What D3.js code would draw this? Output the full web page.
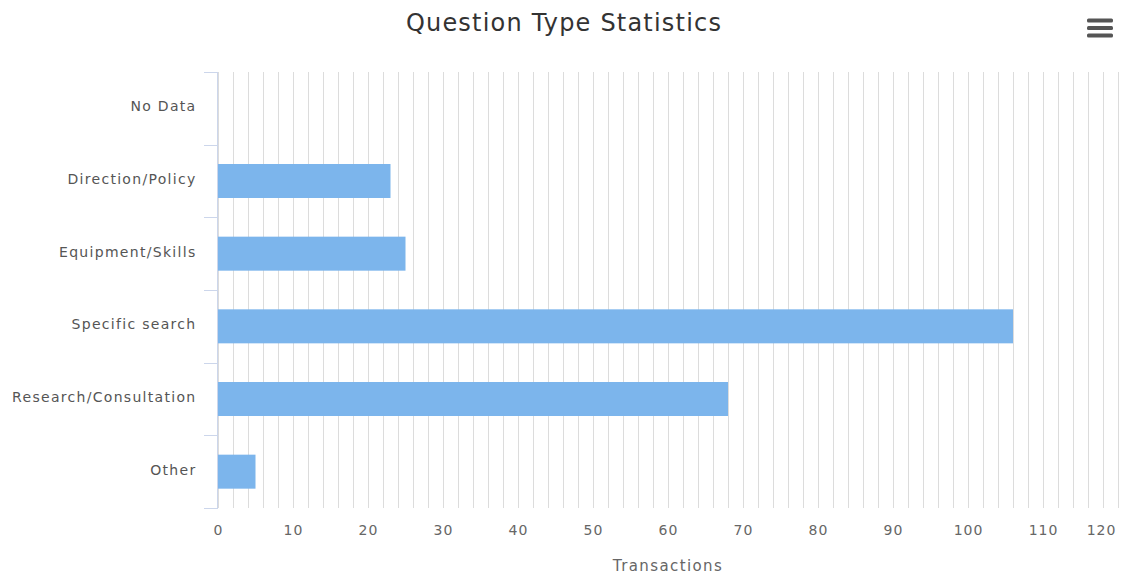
<!DOCTYPE html>
<html>
<head>
<meta charset="utf-8">
<script src="https://cdn.jsdelivr.net/npm/d3@7"></script>
<style>
  html, body { margin: 0; padding: 0; background: #fff; }
  svg { display: block; font-family: "DejaVu Sans", sans-serif; }
</style>
</head>
<body>
<svg id="chart" width="1126" height="575"></svg>
<script>
// Question type counts
const categories = ["No Data", "Direction/Policy", "Equipment/Skills", "Specific search", "Research/Consultation", "Other"];
const transactions = [0, 23, 25, 106, 68, 5];
const xTickLabels = [0, 10, 20, 30, 40, 50, 60, 70, 80, 90, 100, 110, 120];
const gridValues = d3.range(0, 121, 2);

const svg = d3.select("#chart");
const plot = { left: 218, right: 1118, top: 72, bottom: 508 };

const x = d3.scaleLinear().domain([0, 120]).range([plot.left, plot.right]);
const y = d3.scaleBand().domain(categories).range([plot.top, plot.bottom]);

// Title
svg.append("text")
  .attr("x", 564).attr("y", 31)
  .attr("text-anchor", "middle")
  .attr("font-size", 24)
  .attr("letter-spacing", 1.2)
  .attr("fill", "#333")
  .text("Question Type Statistics");

// Menu icon
const menu = svg.append("g").attr("fill", "#555");
[0, 1, 2].forEach(i => {
  menu.append("rect").attr("x", 1087).attr("y", 18.5 + i * 7.5).attr("width", 26).attr("height", 4).attr("rx", 1.5);
});

// Vertical gridlines
svg.append("g")
  .selectAll("line")
  .data(gridValues)
  .join("line")
  .attr("x1", d => Math.round(x(d)) + 0.5)
  .attr("x2", d => Math.round(x(d)) + 0.5)
  .attr("y1", plot.top)
  .attr("y2", plot.bottom)
  .attr("stroke", "#dcdcdc")
  .attr("stroke-width", 1);

// Bars
svg.append("g")
  .selectAll("rect")
  .data(transactions)
  .join("rect")
  .attr("x", x(0))
  .attr("y", (d, i) => y(categories[i]) + y.bandwidth() / 2 - 17)
  .attr("width", d => x(d) - x(0))
  .attr("height", 34)
  .attr("fill", "#7cb5ec");

// Category axis
const yAxis = svg.append("g")
  .attr("transform", `translate(${plot.left - 0.5},0)`)
  .call(d3.axisLeft(y).tickSize(0).tickPadding(21));
yAxis.select(".domain").attr("stroke", "#ccd6eb").attr("d", `M0,${plot.top}V${plot.bottom}`);
yAxis.selectAll("text")
  .attr("font-size", 14).attr("fill", "#555")
  .attr("letter-spacing", 1.3)
  .attr("dy", "0.22em")
  .attr("font-family", "DejaVu Sans, sans-serif");

// Category boundary ticks
const bounds = categories.map(c => y(c)).concat([plot.bottom]);
svg.append("g")
  .selectAll("line")
  .data(bounds)
  .join("line")
  .attr("x1", plot.left - 14)
  .attr("x2", plot.left)
  .attr("y1", d => Math.round(d) + 0.5)
  .attr("y2", d => Math.round(d) + 0.5)
  .attr("stroke", "#ccd6eb");

// Value axis labels
const xAxis = svg.append("g")
  .attr("transform", `translate(0,${plot.bottom})`)
  .call(d3.axisBottom(x).tickValues(xTickLabels).tickSize(0).tickPadding(17));
xAxis.select(".domain").remove();
xAxis.selectAll("text")
  .attr("font-size", 14).attr("fill", "#666")
  .attr("letter-spacing", 1)
  .attr("font-family", "DejaVu Sans, sans-serif")
  .attr("x", d => d === 120 ? -17 : 0);

// Value axis title
svg.append("text")
  .attr("x", (plot.left + plot.right) / 2).attr("y", 571)
  .attr("text-anchor", "middle")
  .attr("font-size", 15)
  .attr("letter-spacing", 1.4)
  .attr("fill", "#666")
  .text("Transactions");
</script>
</body>
</html>
